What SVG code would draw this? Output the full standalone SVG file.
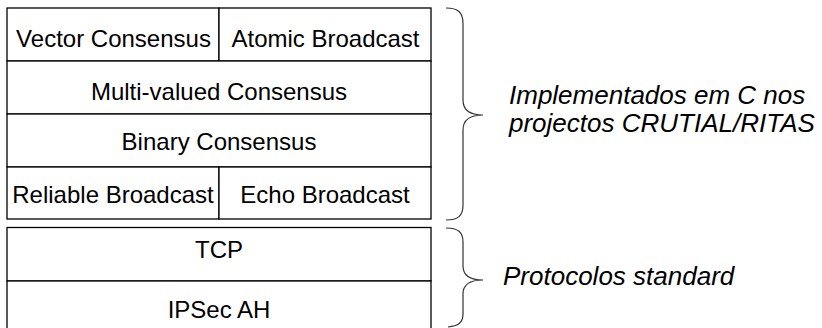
<svg xmlns="http://www.w3.org/2000/svg" width="822" height="328" viewBox="0 0 822 328">
  <style>
    .box { fill: #ffffff; stroke: #000000; stroke-width: 1.3; }
    .lbl { font-family: "Liberation Sans", Arial, sans-serif; font-size: 24px; fill: #000000; text-anchor: middle; }
    .note { font-family: "Liberation Sans", Arial, sans-serif; font-size: 26px; font-style: italic; fill: #000000; }
    .brace { fill: none; stroke: #333333; stroke-width: 1.2; }
  </style>

  <rect width="822" height="328" fill="#ffffff"/>

  <!-- Upper protocol stack -->
  <g id="vector-consensus">
    <rect class="box" x="7" y="8" width="212" height="53"/>
    <text class="lbl" x="113.5" y="46.5">Vector Consensus</text>
  </g>
  <g id="atomic-broadcast">
    <rect class="box" x="219" y="8" width="212" height="53"/>
    <text class="lbl" x="325.5" y="46.5">Atomic Broadcast</text>
  </g>
  <g id="multi-valued-consensus">
    <rect class="box" x="7" y="61" width="424" height="53"/>
    <text class="lbl" x="219" y="99.5">Multi-valued Consensus</text>
  </g>
  <g id="binary-consensus">
    <rect class="box" x="7" y="114" width="424" height="53"/>
    <text class="lbl" x="219" y="150">Binary Consensus</text>
  </g>
  <g id="reliable-broadcast">
    <rect class="box" x="7" y="167" width="212" height="52"/>
    <text class="lbl" x="113" y="202.5">Reliable Broadcast</text>
  </g>
  <g id="echo-broadcast">
    <rect class="box" x="219" y="167" width="212" height="52"/>
    <text class="lbl" x="325" y="202.5">Echo Broadcast</text>
  </g>

  <!-- Lower protocol stack -->
  <g id="tcp">
    <rect class="box" x="7" y="227.5" width="424" height="53.5"/>
    <text class="lbl" x="219" y="258">TCP</text>
  </g>
  <g id="ipsec-ah">
    <rect class="box" x="7" y="281" width="424" height="55"/>
    <text class="lbl" x="219" y="318">IPSec AH</text>
  </g>

  <!-- Grouping braces -->
  <g id="braces">
    <path class="brace" d="M446,8 C458,8 463,12 463,24 L463,100 C463,110 470,115 483,115 C470,115 463,120 463,130 L463,205 C463,216 458,220 446,220"/>
    <path class="brace" d="M446,228 C458,228 463,232 463,242 L463,266 C463,275 470,280 483,280 C470,280 463,285 463,294 L463,314 C463,323 458,326 448,327"/>
  </g>

  <!-- Brace annotations -->
  <g id="note-implemented">
    <text class="note" x="509" y="104">Implementados em C nos</text>
    <text class="note" x="509" y="132">projectos CRUTIAL/RITAS</text>
  </g>
  <g id="note-standard">
    <text class="note" x="503" y="285">Protocolos standard</text>
  </g>
</svg>
